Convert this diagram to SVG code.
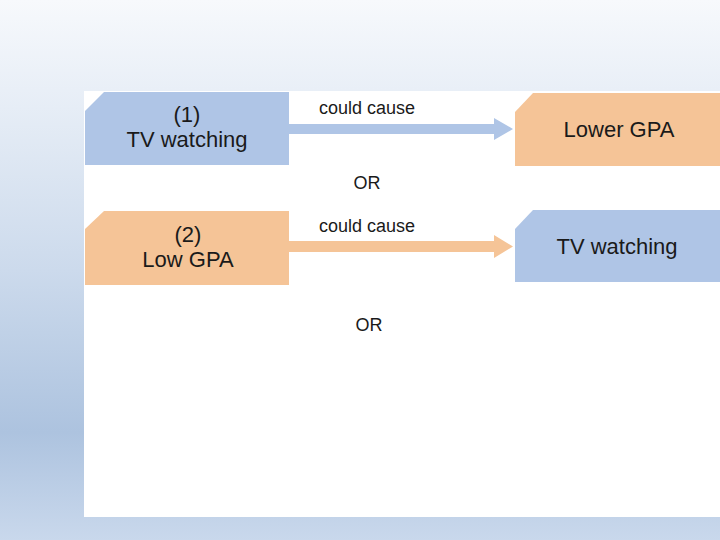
<svg xmlns="http://www.w3.org/2000/svg" width="720" height="540" viewBox="0 0 720 540">
<defs>
<linearGradient id="bg" x1="0" y1="0" x2="0" y2="1">
<stop offset="0" stop-color="#F7F9FC"/>
<stop offset="0.2" stop-color="#E6EDF6"/>
<stop offset="0.5" stop-color="#CCDAEC"/>
<stop offset="0.8" stop-color="#ADC3DF"/>
<stop offset="1" stop-color="#C9D8EC"/>
</linearGradient>
<style>
.blue{fill:#AFC5E6}
.orange{fill:#F5C497}
.t{font-family:"Liberation Sans",Arial,sans-serif;fill:#1a1a1a;text-anchor:middle}
.big{font-size:22px}
.small{font-size:18px}
</style>
</defs>
<rect x="0" y="0" width="720" height="540" fill="url(#bg)"/>
<rect x="84" y="91" width="636" height="426" fill="#FFFFFF"/>

<g id="connectors">
<path class="blue" d="M289,124 H494 V118 L513,129 L494,140 V134 H289 Z"/>
<path class="orange" d="M289,241 H494 V235 L513,246.5 L494,258 V252 H289 Z"/>
<text class="t small" x="367" y="114">could cause</text>
<text class="t small" x="367" y="232">could cause</text>
</g>

<g id="node-tv1">
<path class="blue" d="M104,92 H289 V165 H85 V111 Z"/>
<text class="t big" x="187" y="122">(1)</text>
<text class="t big" x="187" y="147">TV watching</text>
</g>

<g id="node-lowergpa">
<path class="orange" d="M533,93 H720 V166 H515 V112 Z"/>
<text class="t big" x="619" y="137">Lower GPA</text>
</g>

<g id="or1">
<text class="t small" x="367" y="189">OR</text>
</g>

<g id="node-lowgpa">
<path class="orange" d="M104,211 H289 V285 H85 V229 Z"/>
<text class="t big" x="188" y="242">(2)</text>
<text class="t big" x="188" y="267">Low GPA</text>
</g>

<g id="node-tv2">
<path class="blue" d="M533,210 H720 V282 H515 V229 Z"/>
<text class="t big" x="617" y="254">TV watching</text>
</g>

<g id="or2">
<text class="t small" x="369" y="331">OR</text>
</g>
</svg>
